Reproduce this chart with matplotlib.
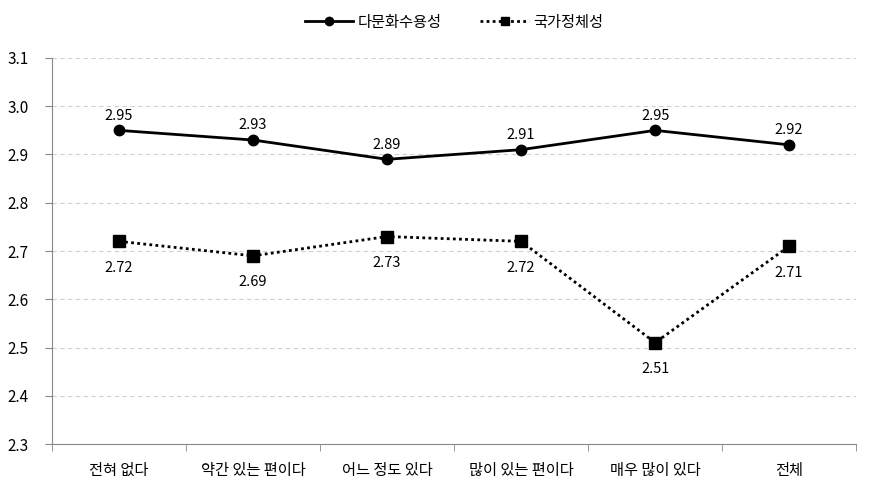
import numpy as np
import matplotlib.pyplot as plt

plt.rcParams['font.family'] = ['Noto Sans CJK KR', 'DejaVu Sans']

categories = ["전혀 없다", "약간 있는 편이다", "어느 정도 있다", "많이 있는 편이다", "매우 많이 있다", "전체"]
multicultural = [2.95, 2.93, 2.89, 2.91, 2.95, 2.92]
national_identity = [2.72, 2.69, 2.73, 2.72, 2.51, 2.71]
y_ticks = [2.3, 2.4, 2.5, 2.6, 2.7, 2.8, 2.9, 3.0, 3.1]

fig = plt.figure(figsize=(8.71, 4.94), dpi=100)
ax = fig.add_axes([0.0597, 0.1012, 0.9233, 0.7814])

x = np.arange(len(categories))
ax.plot(x, multicultural, color='black', lw=2, marker='o', ms=7.5, label="다문화수용성")
ax.plot(x, national_identity, color='black', lw=2, ls=(0, (1, 1.2)), marker='s', ms=8,
        label="국가정체성")

for xi, v in zip(x, multicultural):
    ax.annotate(f"{v:.2f}", (xi, v), xytext=(0, 5.5), textcoords='offset points',
                ha='center', va='bottom', fontsize=10.5)
for xi, v in zip(x, national_identity):
    ax.annotate(f"{v:.2f}", (xi, v), xytext=(0, -14), textcoords='offset points',
                ha='center', va='top', fontsize=10.5)

ax.set_xlim(-0.5, len(categories) - 0.5)
ax.set_ylim(2.3, 3.1)
ax.set_yticks(y_ticks)
ax.set_yticklabels([f"{t:.1f}" for t in y_ticks], fontsize=11)
ax.set_xticks(x)
ax.set_xticklabels(categories, fontsize=11)
ax.set_xticks(np.arange(len(categories) + 1) - 0.5, minor=True)
ax.tick_params(axis='x', which='major', length=0, pad=13)
ax.tick_params(axis='x', which='minor', length=5, color='#888888')
ax.tick_params(axis='y', length=5, color='#888888', pad=12)

ax.grid(axis='y', color='#d0d0d0', ls=(0, (4, 3)), lw=0.8)
for s in ['top', 'right']:
    ax.spines[s].set_visible(False)
for s in ['left', 'bottom']:
    ax.spines[s].set_color('#888888')

ax.legend(loc='lower center', bbox_to_anchor=(0.5, 1.035), ncol=2, frameon=False,
          fontsize=11, handlelength=3.2, columnspacing=2.5, handletextpad=0.3,
          markerscale=0.8)

fig.savefig("out.png", dpi=100)
